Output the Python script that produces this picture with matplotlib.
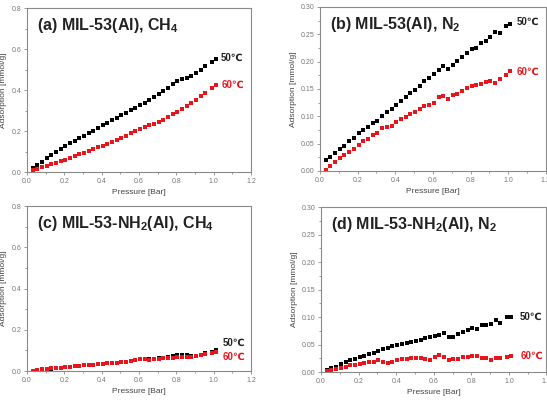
import matplotlib
matplotlib.use("Agg")
import matplotlib.pyplot as plt
from matplotlib.ticker import MultipleLocator

# pressure grid (bar), shared by all four panels
pressure = [0.03, 0.055, 0.08, 0.105, 0.13, 0.155, 0.18, 0.205, 0.23, 0.255,
            0.28, 0.305, 0.33, 0.355, 0.38, 0.405, 0.43, 0.455, 0.48, 0.505,
            0.53, 0.555, 0.58, 0.605, 0.63, 0.655, 0.68, 0.705, 0.73, 0.755,
            0.78, 0.805, 0.83, 0.855, 0.88, 0.905, 0.93, 0.955, 0.99, 1.01]

# (a) MIL-53(Al), CH4
a_50 = [0.020, 0.036, 0.051, 0.066, 0.082, 0.097, 0.112, 0.127, 0.140, 0.152,
        0.165, 0.177, 0.190, 0.202, 0.215, 0.228, 0.240, 0.252, 0.264, 0.277,
        0.289, 0.301, 0.313, 0.326, 0.339, 0.353, 0.367, 0.381, 0.396, 0.411,
        0.427, 0.443, 0.452, 0.461, 0.470, 0.483, 0.500, 0.515, 0.535, 0.551]
a_60 = [0.010, 0.017, 0.024, 0.031, 0.038, 0.045, 0.053, 0.061, 0.069, 0.077,
        0.086, 0.094, 0.102, 0.111, 0.120, 0.129, 0.138, 0.147, 0.157, 0.167,
        0.177, 0.188, 0.200, 0.212, 0.220, 0.228, 0.236, 0.245, 0.256, 0.268,
        0.281, 0.295, 0.309, 0.323, 0.338, 0.353, 0.369, 0.386, 0.408, 0.424]

# (b) MIL-53(Al), N2
b_50 = [0.020, 0.026, 0.033, 0.040, 0.046, 0.055, 0.061, 0.070, 0.075, 0.081,
        0.087, 0.092, 0.100, 0.107, 0.114, 0.121, 0.128, 0.135, 0.142, 0.148,
        0.156, 0.164, 0.171, 0.178, 0.185, 0.192, 0.187, 0.193, 0.201, 0.209,
        0.216, 0.223, 0.225, 0.235, 0.237, 0.245, 0.255, 0.253, 0.266, 0.268]
b_60 = [0.0025, 0.009, 0.016, 0.023, 0.029, 0.035, 0.041, 0.047, 0.054, 0.059,
        0.066, 0.070, 0.078, 0.081, 0.082, 0.089, 0.096, 0.099, 0.104, 0.108,
        0.113, 0.118, 0.120, 0.125, 0.135, 0.138, 0.131, 0.139, 0.141, 0.147,
        0.151, 0.155, 0.157, 0.159, 0.162, 0.164, 0.161, 0.168, 0.176, 0.183]

# (c) MIL-53-NH2(Al), CH4
c_50 = [0.002, 0.003, 0.003, 0.004, 0.008, 0.014, 0.017, 0.019, 0.021, 0.023,
        0.025, 0.027, 0.029, 0.031, 0.033, 0.035, 0.037, 0.039, 0.041, 0.043,
        0.046, 0.049, 0.052, 0.058, 0.057, 0.056, 0.058, 0.061, 0.064, 0.068,
        0.072, 0.076, 0.078, 0.077, 0.074, 0.075, 0.080, 0.086, 0.094, 0.100]
c_60 = [0.002, 0.005, 0.008, 0.011, 0.013, 0.015, 0.017, 0.019, 0.021, 0.023,
        0.025, 0.027, 0.029, 0.031, 0.033, 0.035, 0.037, 0.039, 0.041, 0.043,
        0.046, 0.049, 0.052, 0.058, 0.057, 0.055, 0.056, 0.058, 0.061, 0.063,
        0.065, 0.067, 0.068, 0.069, 0.070, 0.073, 0.079, 0.084, 0.088, 0.090]

# (d) MIL-53-NH2(Al), N2
d_50 = [0.003, 0.007, 0.010, 0.015, 0.018, 0.021, 0.024, 0.027, 0.030, 0.032,
        0.035, 0.038, 0.041, 0.044, 0.047, 0.049, 0.051, 0.053, 0.055, 0.056,
        0.059, 0.062, 0.064, 0.065, 0.068, 0.071, 0.063, 0.064, 0.069, 0.073,
        0.077, 0.081, 0.078, 0.085, 0.085, 0.087, 0.095, 0.090, 0.100, 0.100]
d_60 = [0.002, 0.004, 0.006, 0.008, 0.010, 0.012, 0.013, 0.014, 0.016, 0.018,
        0.019, 0.021, 0.018, 0.017, 0.019, 0.021, 0.023, 0.024, 0.025, 0.026,
        0.026, 0.023, 0.022, 0.027, 0.031, 0.028, 0.021, 0.023, 0.024, 0.027,
        0.027, 0.029, 0.029, 0.025, 0.026, 0.021, 0.025, 0.025, 0.028, 0.030]

titles = ["(a) MIL-53(Al), CH$_\\mathbf{4}$", "(b) MIL-53(Al), N$_\\mathbf{2}$",
          "(c) MIL-53-NH$_\\mathbf{2}$(Al), CH$_\\mathbf{4}$",
          "(d) MIL-53-NH$_\\mathbf{2}$(Al), N$_\\mathbf{2}$"]
series = [(a_50, a_60), (b_50, b_60), (c_50, c_60), (d_50, d_60)]
ymax = [0.8, 0.30, 0.8, 0.30]
ystep = [0.2, 0.05, 0.2, 0.05]
yfmt = ["{:.1f}", "{:.2f}", "{:.1f}", "{:.2f}"]
# where the "50℃" / "60℃" tags sit (pressure, adsorption)
tag_50 = [(1.04, 0.556), (1.045, 0.272), (1.05, 0.137), (1.06, 0.101)]
tag_60 = [(1.04, 0.423), (1.045, 0.182), (1.05, 0.068), (1.06, 0.030)]

positions = [[0.0494, 0.571, 0.4095, 0.409],
             [0.585, 0.5736, 0.413, 0.409],
             [0.0494, 0.0748, 0.4095, 0.411],
             [0.587, 0.0723, 0.412, 0.411]]

red = "#e8161c"
grey = "#8a8a8a"
plt.rcParams["mathtext.fontset"] = "custom"
plt.rcParams["mathtext.bf"] = "Liberation Sans:bold"
plt.rcParams["mathtext.rm"] = "Liberation Sans"

fig = plt.figure(figsize=(5.47, 4.01), dpi=100)

for i in range(4):
    ax = fig.add_axes(positions[i])
    s50, s60 = series[i]
    ax.plot(pressure, s50, "s", color="black", markersize=3, markeredgewidth=0)
    ax.plot(pressure, s60, "s", color=red, markersize=3, markeredgewidth=0)

    ax.set_xlim(0, 1.2)
    ax.set_ylim(0, ymax[i])
    ax.xaxis.set_major_locator(MultipleLocator(0.2))
    ax.xaxis.set_minor_locator(MultipleLocator(0.1))
    ax.yaxis.set_major_locator(MultipleLocator(ystep[i]))
    ax.yaxis.set_minor_locator(MultipleLocator(ystep[i] / 2))
    ax.set_xticks(ax.get_xticks())
    ax.set_xticklabels(["{:.1f}".format(t) for t in ax.get_xticks()],
                       fontsize=5, color="#777777", family="Liberation Sans")
    ax.set_yticks(ax.get_yticks())
    ax.set_yticklabels([yfmt[i].format(t) for t in ax.get_yticks()],
                       fontsize=5, color="#777777", family="Liberation Sans")
    ax.set_xlim(0, 1.2)
    ax.set_ylim(0, ymax[i])
    ax.tick_params(which="both", direction="out", color=grey, width=0.6)
    ax.tick_params(which="major", length=2.5, pad=1.5)
    ax.tick_params(which="minor", length=1.5)
    for sp in ax.spines.values():
        sp.set_color(grey)
        sp.set_linewidth(0.8)

    ax.set_xlabel("Pressure [Bar]", fontsize=6, color="#444444",
                  family="Liberation Sans", labelpad=3)
    ax.set_ylabel("Adsorption [mmol/g]", fontsize=6, color="#444444",
                  family="Liberation Sans", labelpad=3)

    ax.text(0.045, 0.865, titles[i], transform=ax.transAxes, fontsize=11.5,
            fontweight="bold", family="Liberation Sans", color="#222222")
    ax.text(tag_50[i][0], tag_50[i][1], "50℃", fontsize=7, fontweight="bold",
            color="#222222", va="center",
            family=["Liberation Sans", "DejaVu Sans"])
    ax.text(tag_60[i][0], tag_60[i][1], "60℃", fontsize=7, fontweight="bold",
            color=red, va="center",
            family=["Liberation Sans", "DejaVu Sans"])

fig.savefig("out.png", dpi=100)
